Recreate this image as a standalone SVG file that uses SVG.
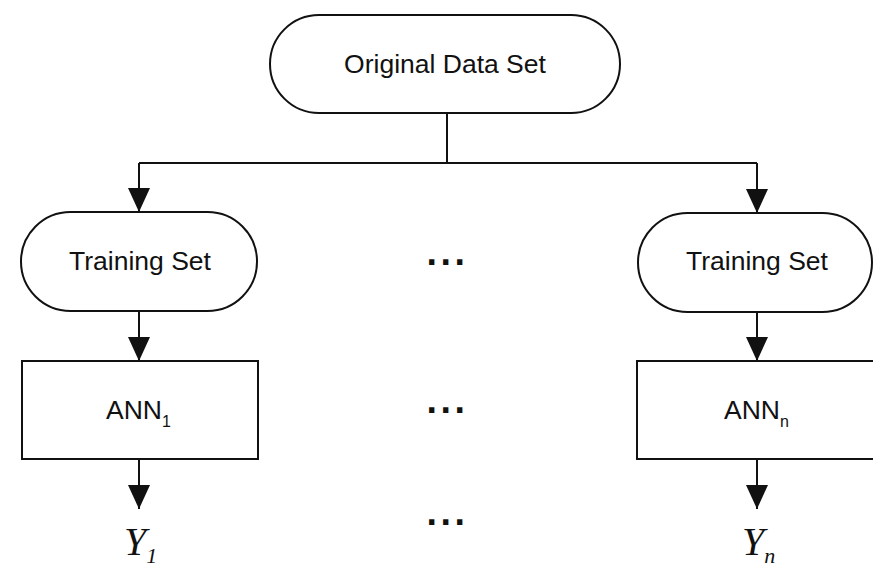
<svg xmlns="http://www.w3.org/2000/svg" width="873" height="567" viewBox="0 0 873 567">
  <style>
    .shape { fill: #ffffff; stroke: #111111; stroke-width: 2; }
    .wire { fill: none; stroke: #111111; stroke-width: 2; }
    .label { font-family: "Liberation Sans", Arial, sans-serif; font-size: 26.5px; fill: #111111; }
    .sub { font-family: "Liberation Sans", Arial, sans-serif; font-size: 16px; fill: #111111; }
    .out { font-family: "Liberation Serif", "Times New Roman", serif; font-style: italic; font-size: 40px; fill: #111111; }
    .outsub { font-family: "Liberation Serif", "Times New Roman", serif; font-style: italic; font-size: 22px; fill: #111111; }
    .dots { font-family: "DejaVu Sans", sans-serif; font-weight: bold; font-size: 30px; letter-spacing: 2.6px; fill: #111111; }
  </style>
  <defs>
    <marker id="arrow" markerUnits="userSpaceOnUse" markerWidth="24" markerHeight="26" refX="24" refY="11" orient="auto">
      <path d="M0,0 L24,11 L0,22 Z" fill="#111111"/>
    </marker>
  </defs>

  <rect width="873" height="567" fill="#ffffff"/>

  <!-- connectors -->
  <g id="connectors">
    <path class="wire" d="M447,113 V163"/>
    <path class="wire" d="M139,163 H757"/>
    <path class="wire" d="M139,163 V212" marker-end="url(#arrow)"/>
    <path class="wire" d="M757,163 V213" marker-end="url(#arrow)"/>
    <path class="wire" d="M139,311 V361" marker-end="url(#arrow)"/>
    <path class="wire" d="M757,312 V361" marker-end="url(#arrow)"/>
    <path class="wire" d="M139,459 V509" marker-end="url(#arrow)"/>
    <path class="wire" d="M757,459 V509" marker-end="url(#arrow)"/>
  </g>

  <!-- source data -->
  <g id="original-data-set">
    <rect class="shape" x="270" y="15" width="350" height="98" rx="49" ry="49"/>
    <text class="label" x="445" y="73" text-anchor="middle">Original Data Set</text>
  </g>

  <!-- first branch -->
  <g id="training-set-1">
    <rect class="shape" x="21" y="212" width="236" height="99" rx="49.5" ry="49.5"/>
    <text class="label" x="140" y="270" text-anchor="middle">Training Set</text>
  </g>
  <g id="ann-1">
    <rect class="shape" x="22" y="361" width="236" height="98"/>
    <text class="label" x="106" y="419">ANN<tspan class="sub" dy="8">1</tspan></text>
  </g>
  <g id="y-1">
    <text class="out" x="124" y="555">Y<tspan class="outsub" dy="8">1</tspan></text>
  </g>

  <!-- last branch -->
  <g id="training-set-n">
    <rect class="shape" x="638" y="213" width="234" height="99" rx="49.5" ry="49.5"/>
    <text class="label" x="757" y="270" text-anchor="middle">Training Set</text>
  </g>
  <g id="ann-n">
    <rect class="shape" x="637" y="361" width="245" height="98"/>
    <text class="label" x="724" y="419">ANN<tspan class="sub" dy="8">n</tspan></text>
  </g>
  <g id="y-n">
    <text class="out" x="742" y="555">Y<tspan class="outsub" dy="8">n</tspan></text>
  </g>

  <!-- ellipses between branches -->
  <g id="ellipsis">
    <text class="dots" x="426" y="265">...</text>
    <text class="dots" x="426" y="413">...</text>
    <text class="dots" x="426" y="525">...</text>
  </g>
</svg>
